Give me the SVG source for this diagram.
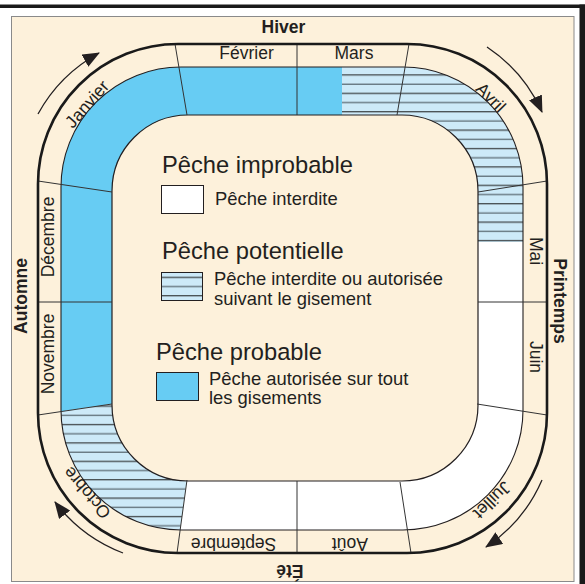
<svg xmlns="http://www.w3.org/2000/svg" width="585" height="584" viewBox="0 0 585 584">
<style>
.t{font-family:"Liberation Sans",Arial,sans-serif;fill:#231F20}
.m{font-size:17.5px;text-anchor:middle}
.s{font-size:17.5px;font-weight:bold;text-anchor:middle}
.h{font-size:23.7px}
.l{font-size:18.4px}
.div{stroke:#333;stroke-width:1;fill:none}
.arr{stroke:#231F20;stroke-width:1.3;fill:none;marker-end:url(#ah)}
</style>
<defs>
<pattern id="hatch" patternUnits="userSpaceOnUse" x="0" y="15.2" width="20" height="18.4">
<rect width="20" height="18.4" fill="#CDEAF8"/>
<line x1="0" y1="4.6" x2="20" y2="4.6" stroke="#1a1a1a" stroke-width="1"/>
<line x1="0" y1="13.8" x2="20" y2="13.8" stroke="#55646c" stroke-width="1.2"/>
</pattern>
<clipPath id="band"><rect x="61" y="67" width="462" height="463" rx="120"/></clipPath>
<marker id="ah" markerUnits="userSpaceOnUse" viewBox="0 0 17 14" markerWidth="17" markerHeight="14" refX="16" refY="7" orient="auto">
<path d="M0,0 L17,7 L0,14 Z" fill="#231F20"/>
</marker>
</defs>
<rect width="585" height="584" fill="#fff"/>
<g id="frame">
<rect x="0" y="4.5" width="585" height="3.5" fill="#1a1a1a"/>
<rect x="579.5" y="4.5" width="5.5" height="580" fill="#1a1a1a"/>
<rect x="11.5" y="16.5" width="562.5" height="565" fill="#FDF1DB" stroke="#8a8a8a" stroke-width="1"/>
</g>
<g id="ring">
<g clip-path="url(#band)">
<polygon id="seg-probable" points="342,0 342,140 130,401.3 0,420.6 0,0" fill="#67CCF3"/>
<polygon id="seg-potentielle-1" points="342,0 585,0 585,242 400,242 342,140" fill="url(#hatch)"/>
<polygon id="seg-improbable" points="585,242 585,584 172.8,584 190.9,450 400,242" fill="#fff"/>
<polygon id="seg-potentielle-2" points="0,420.6 130,401.3 190.9,450 172.8,584 0,584" fill="url(#hatch)"/>
</g>
<rect x="112" y="115" width="366" height="366" rx="76" fill="#FDF1DB" stroke="#231F20" stroke-width="1.2"/>
<rect x="61" y="67" width="462" height="463" rx="120" fill="none" stroke="#231F20" stroke-width="1.1"/>
<g id="dividers">
<line class="div" x1="175" y1="44" x2="187" y2="115"/>
<line class="div" x1="297" y1="44" x2="297" y2="115"/>
<line class="div" x1="409" y1="44" x2="397" y2="115"/>
<line class="div" x1="547" y1="181" x2="478" y2="192"/>
<line class="div" x1="478" y1="302" x2="547" y2="302"/>
<line class="div" x1="477" y1="404" x2="547" y2="415"/>
<line class="div" x1="400" y1="482" x2="411" y2="553"/>
<line class="div" x1="297" y1="481" x2="297" y2="553"/>
<line class="div" x1="187" y1="480" x2="177" y2="553"/>
<line class="div" x1="38" y1="415" x2="112" y2="404"/>
<line class="div" x1="38" y1="302" x2="112" y2="302"/>
<line class="div" x1="38" y1="181" x2="112" y2="192"/>
</g>
<rect x="38" y="44" width="509" height="509" rx="140" fill="none" stroke="#1a1a1a" stroke-width="2.6"/>
</g>
<g id="months" class="t">
<text class="m" x="246.5" y="59">Février</text>
<text class="m" x="354" y="59">Mars</text>
<text class="m" transform="translate(91.5,108) rotate(-48.6)">Janvier</text>
<text class="m" transform="translate(486.7,101.7) rotate(45.3)">Avril</text>
<text class="m" transform="translate(530,251) rotate(90)">Mai</text>
<text class="m" transform="translate(530,357) rotate(90)">Juin</text>
<text class="m" transform="translate(488,496) rotate(135.3)">Juillet</text>
<text class="m" transform="translate(350,538) rotate(180)">Août</text>
<text class="m" transform="translate(233.5,538) rotate(180)">Septembre</text>
<text class="m" transform="translate(91.5,489) rotate(229.2)">Octobre</text>
<text class="m" transform="translate(54,354) rotate(-90)">Novembre</text>
<text class="m" transform="translate(54,237) rotate(-90)">Décembre</text>
</g>
<g id="seasons" class="t">
<text class="s" x="283.5" y="33">Hiver</text>
<text class="s" transform="translate(554,301) rotate(90)">Printemps</text>
<text class="s" transform="translate(290,565) rotate(180)">Été</text>
<text class="s" transform="translate(27,296) rotate(-90)">Automne</text>
</g>
<g id="connectors">
<path class="arr" d="M38,114 A154,154 0 0 1 99,53"/>
<path class="arr" d="M487,47 A154,154 0 0 1 542,112"/>
<path class="arr" d="M542,480 A154,154 0 0 1 486,547"/>
<path class="arr" d="M123,553 A154,154 0 0 1 55,502"/>
</g>
<g id="legend-improbable" class="t">
<text class="h" x="162" y="173">Pêche improbable</text>
<rect x="161.5" y="185.5" width="42" height="28" fill="#fff" stroke="#231F20" stroke-width="1"/>
<text class="l" x="215" y="205">Pêche interdite</text>
</g>
<g id="legend-potentielle" class="t">
<text class="h" x="162" y="259">Pêche potentielle</text>
<rect x="161.5" y="272.5" width="41" height="28" fill="url(#hatch)" stroke="#231F20" stroke-width="1"/>
<text class="l" x="214" y="285">Pêche interdite ou autorisée</text>
<text class="l" x="214" y="304.5">suivant le gisement</text>
</g>
<g id="legend-probable" class="t">
<text class="h" x="156" y="360">Pêche probable</text>
<rect x="156.5" y="372.5" width="42" height="28" fill="#67CCF3" stroke="#231F20" stroke-width="1"/>
<text class="l" x="209" y="384.5">Pêche autorisée sur tout</text>
<text class="l" x="209" y="404">les gisements</text>
</g>
</svg>
